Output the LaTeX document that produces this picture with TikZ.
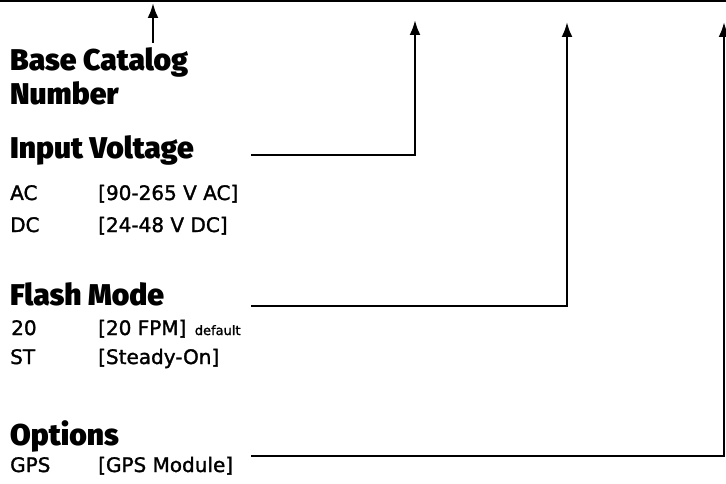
\documentclass[tikz,border=0pt]{standalone}
\usepackage{fontspec}
\setmainfont{DejaVu Sans}[FakeBold=1.5]
\newfontfamily\headfont{Fira Sans Black}
\usetikzlibrary{positioning}
\usetikzlibrary{calc}
\usetikzlibrary{arrows.meta}

\begin{document}
\begin{tikzpicture}[
   x=1pt, y=-1pt,                 % picture units follow the page
   ]
% -------------------------------------------------
\tikzset{
  base/.style={inner sep=0pt, anchor=base west},
  head/.style={base, font=\headfont\fontsize{30}{30}\selectfont},
  item/.style={base, font=\fontsize{20}{20}\selectfont},
  note/.style={base, font=\fontsize{13}{13}\selectfont},
  edge/.style={draw, line width=2.5pt},
  line/.style={draw, line width=2.5pt, -{Latex[length=15pt, width=11pt]}},
}
    \useasboundingbox (0,0) rectangle (726,484);

    % top rule
    \coordinate (rule-l) at (0,1);
    \coordinate (rule-r) at (726,1);
    \path [edge] (rule-l) -- (rule-r);

    % base catalog number
    \node [head] (bcn1) at (10,71) {Base Catalog};
    \node [head] (bcn2) at (10,105) {Number};
    \coordinate (bcn-s) at (153,43);
    \coordinate (bcn-t) at (153,3);

    % input voltage
    \node [head] (iv) at (10,159) {Input Voltage};
    \node [item] (iv-ac) at (10,200) {AC};
    \node [item] (iv-acd) at (98,200) {[90-265 V AC]};
    \node [item] (iv-dc) at (10,232) {DC};
    \node [item] (iv-dcd) at (98,232) {[24-48 V DC]};
    \coordinate (iv-s) at (251,155);
    \coordinate (iv-t) at (415,20);

    % flash mode
    \node [head] (fm) at (10,305) {Flash Mode};
    \node [item] (fm-20) at (11,335) {20};
    \node [item] (fm-20d) at (98,335) {[20 FPM]};
    \node [note, right=8pt of fm-20d.base east, anchor=base west] (fm-def) {default};
    \node [item] (fm-st) at (10,364) {ST};
    \node [item] (fm-std) at (98,364) {[Steady-On]};
    \coordinate (fm-s) at (251,306);
    \coordinate (fm-t) at (567,22);

    % options
    \node [head] (op) at (10,445) {Options};
    \node [item] (op-gps) at (10,472) {GPS};
    \node [item] (op-gpsd) at (98,472) {[GPS Module]};
    \coordinate (op-s) at (251,456);
    \coordinate (op-t) at (724,22);

    \path [line] (bcn-s) -- (bcn-t);
    \path [line] (iv-s) -- (iv-s -| iv-t) -- (iv-t);
    \path [line] (fm-s) -- (fm-s -| fm-t) -- (fm-t);
    \path [line] (op-s) -- (op-s -| op-t) -- (op-t);

\end{tikzpicture}
\end{document}
